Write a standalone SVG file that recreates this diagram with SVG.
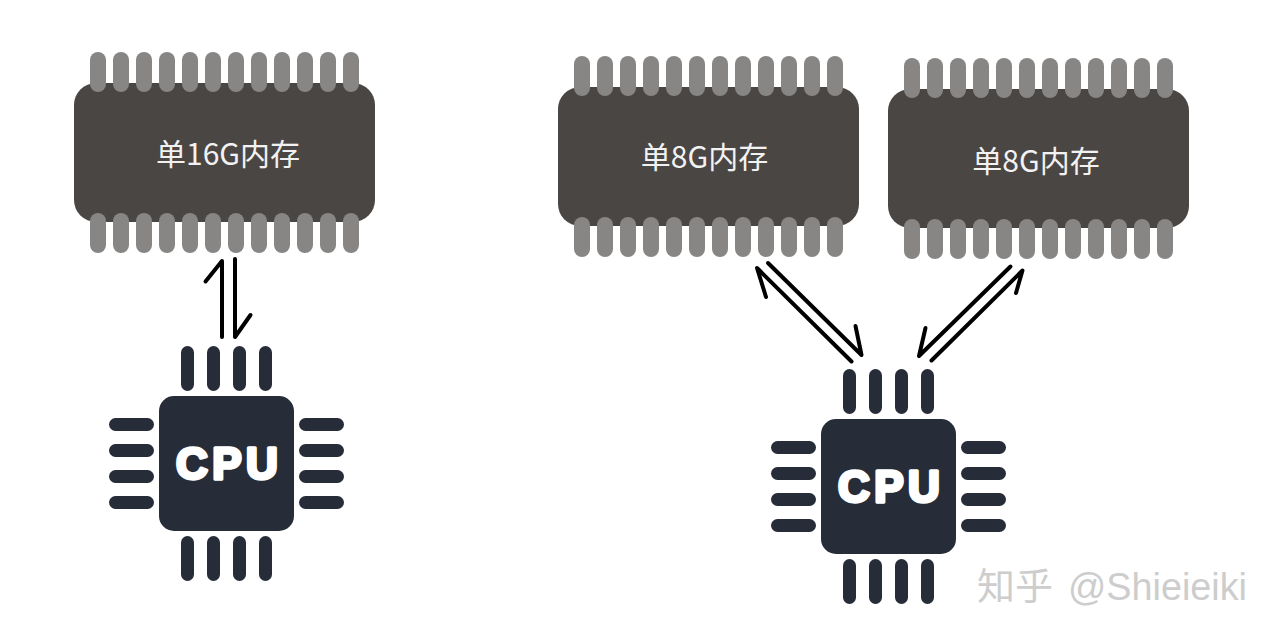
<svg xmlns="http://www.w3.org/2000/svg" xmlns:xlink="http://www.w3.org/1999/xlink" width="1280" height="638" viewBox="0 0 1280 638">
<style>
.body{fill:#4a4644}
.pin{fill:#878684}
.cpu{fill:#262c38}
.lbl{font-family:"Noto Sans CJK SC","Noto Sans",sans-serif;font-size:30px;fill:#f2f2f2;text-anchor:middle}
.cpul{font-family:"Liberation Sans",Arial,sans-serif;font-weight:bold;font-size:44px;fill:#fff;stroke:#fff;stroke-width:3.500;stroke-linejoin:round;text-anchor:middle}
.wm{font-family:"Noto Sans CJK SC","Noto Sans",sans-serif;font-size:37px;fill:#cdcdcd}
.wml{font-family:"Liberation Sans",Arial,sans-serif;font-size:39px;fill:#cdcdcd}
.arrow{fill:none;stroke:#000;stroke-width:4;stroke-linecap:round;stroke-linejoin:round}
</style>
<defs>
<g id="pins">
<rect class="pin" x="0" y="0" width="16" height="40" rx="8"/><rect class="pin" x="23" y="0" width="16" height="40" rx="8"/><rect class="pin" x="46" y="0" width="16" height="40" rx="8"/><rect class="pin" x="69" y="0" width="16" height="40" rx="8"/><rect class="pin" x="92" y="0" width="16" height="40" rx="8"/><rect class="pin" x="115" y="0" width="16" height="40" rx="8"/><rect class="pin" x="138" y="0" width="16" height="40" rx="8"/><rect class="pin" x="161" y="0" width="16" height="40" rx="8"/><rect class="pin" x="184" y="0" width="16" height="40" rx="8"/><rect class="pin" x="207" y="0" width="16" height="40" rx="8"/><rect class="pin" x="230" y="0" width="16" height="40" rx="8"/><rect class="pin" x="253" y="0" width="16" height="40" rx="8"/>
</g>
<g id="chip">
<rect class="body" x="0" y="0" width="301" height="139" rx="22"/>
<use xlink:href="#pins" href="#pins" x="16" y="-31"/>
<use xlink:href="#pins" href="#pins" x="16" y="130"/>
</g>
<g id="cpu">
<rect class="cpu" x="0" y="0" width="135" height="135" rx="15"/>
<rect class="cpu" x="22" y="-50" width="13" height="45" rx="6.5"/><rect class="cpu" x="48" y="-50" width="13" height="45" rx="6.5"/><rect class="cpu" x="74" y="-50" width="13" height="45" rx="6.5"/><rect class="cpu" x="100" y="-50" width="13" height="45" rx="6.5"/>
<rect class="cpu" x="22" y="140" width="13" height="45" rx="6.5"/><rect class="cpu" x="48" y="140" width="13" height="45" rx="6.5"/><rect class="cpu" x="74" y="140" width="13" height="45" rx="6.5"/><rect class="cpu" x="100" y="140" width="13" height="45" rx="6.5"/>
<rect class="cpu" x="-50" y="22" width="45" height="13" rx="6.5"/><rect class="cpu" x="-50" y="48" width="45" height="13" rx="6.5"/><rect class="cpu" x="-50" y="74" width="45" height="13" rx="6.5"/><rect class="cpu" x="-50" y="100" width="45" height="13" rx="6.5"/>
<rect class="cpu" x="140" y="22" width="45" height="13" rx="6.5"/><rect class="cpu" x="140" y="48" width="45" height="13" rx="6.5"/><rect class="cpu" x="140" y="74" width="45" height="13" rx="6.5"/><rect class="cpu" x="140" y="100" width="45" height="13" rx="6.5"/>
<text class="cpul" x="33 68 103" y="83">CPU</text>
</g>
</defs>
<rect width="1280" height="638" fill="#fff"/>
<g id="mem16">
<use xlink:href="#chip" href="#chip" x="74" y="83"/>
<text class="lbl" x="228" y="165">单16G内存</text>
</g>
<g id="mem8a">
<use xlink:href="#chip" href="#chip" x="558" y="87"/>
<text class="lbl" x="704.5" y="168">单8G内存</text>
</g>
<g id="mem8b">
<use xlink:href="#chip" href="#chip" x="888" y="89"/>
<text class="lbl" x="1036" y="172">单8G内存</text>
</g>
<g id="cpu1"><use xlink:href="#cpu" href="#cpu" x="159" y="396"/></g>
<g id="cpu2"><use xlink:href="#cpu" href="#cpu" x="821" y="419"/></g>
<g id="connectors">
<path class="arrow" d="M222 337V261L205.500 281.500"/>
<path class="arrow" d="M235 259V337L250.500 315"/>
<path class="arrow" d="M851.500 361.500L757 268L766 297"/>
<path class="arrow" d="M768 263L861.500 355L855.500 326"/>
<path class="arrow" d="M1010.500 266.500L919 356L925.500 328"/>
<path class="arrow" d="M931.500 360.500L1022.500 270.500L1016 293"/>
</g>
<g id="watermark">
<text class="wm" x="977" y="600" textLength="76" lengthAdjust="spacingAndGlyphs">知乎</text>
<text class="wml" x="1068" y="600" textLength="179" lengthAdjust="spacingAndGlyphs">@Shieieiki</text>
</g>
</svg>
